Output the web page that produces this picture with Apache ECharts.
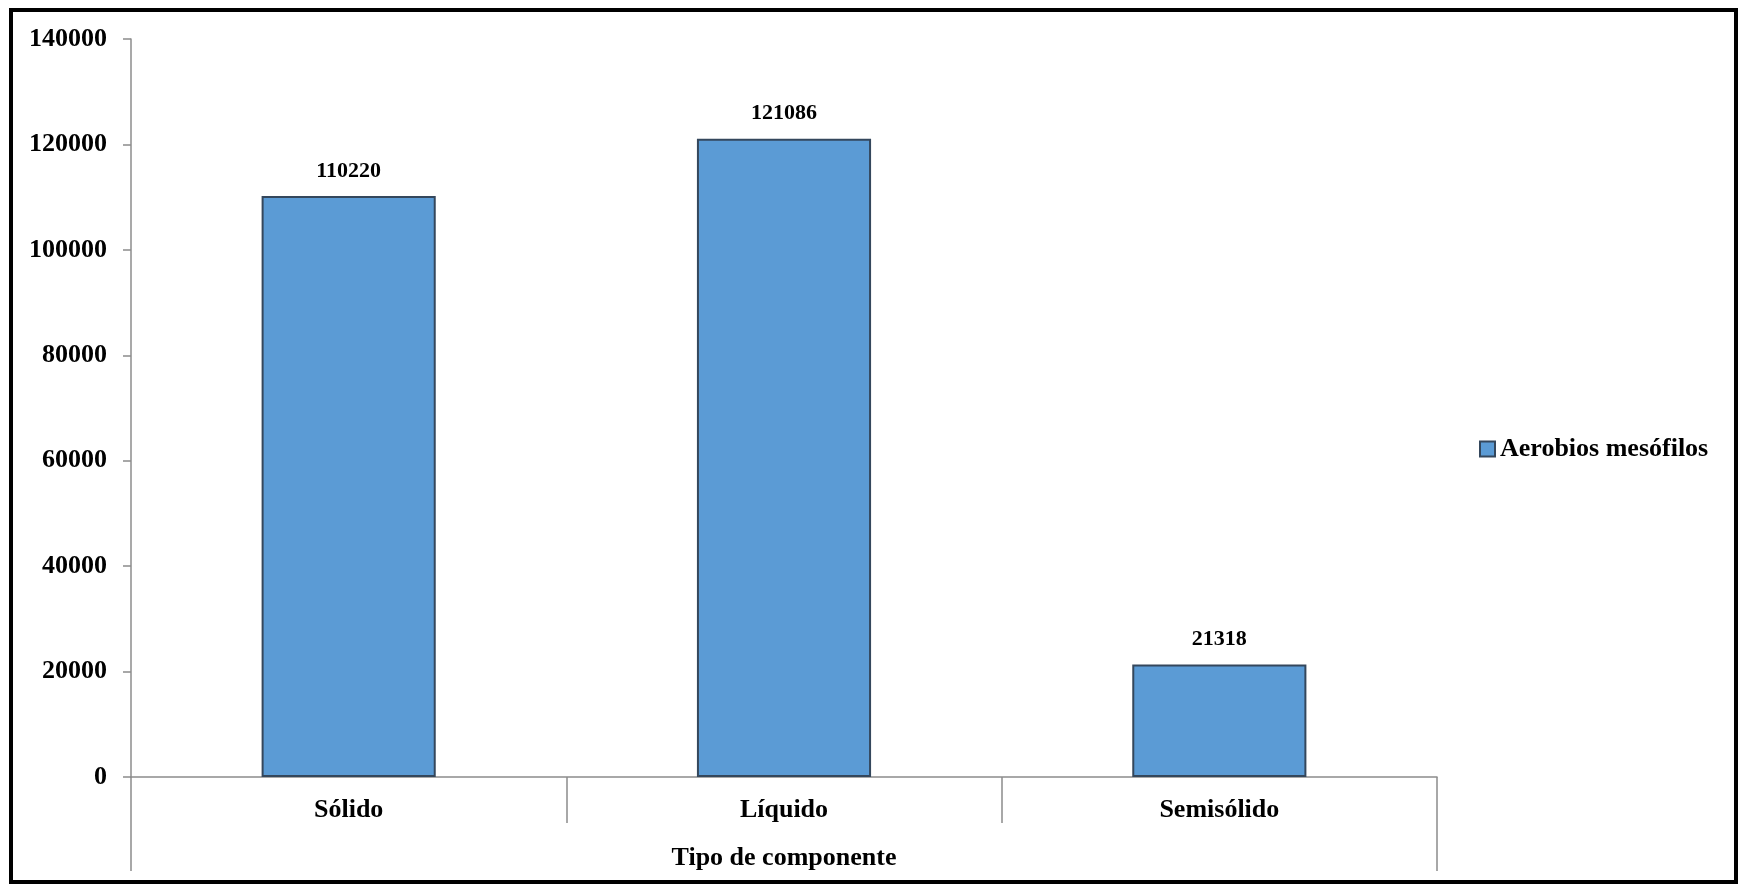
<!DOCTYPE html>
<html>
<head>
<meta charset="utf-8">
<title>Aerobios mesófilos por tipo de componente</title>
<script src="https://cdn.jsdelivr.net/npm/echarts@6/dist/echarts.min.js"></script>
<style>
  html, body { margin: 0; padding: 0; background: #ffffff; }
  #chart { width: 1738px; height: 884px; }
</style>
</head>
<body>
<div id="chart"></div>
<script>
// Categories and measured counts
const categories = ['Sólido', 'Líquido', 'Semisólido'];
const seriesName = 'Aerobios mesófilos';
const values = [110220, 121086, 21318];
const groupLabel = ['Tipo de componente'];
const yTicks = { min: 0, max: 140000, interval: 20000 };

const FONT = '"Liberation Serif", "Times New Roman", serif';
const AXIS_GRAY = '#8c8c8c';

const chart = echarts.init(document.getElementById('chart'), null, { renderer: 'canvas' });

chart.setOption({
  animation: false,
  backgroundColor: '#ffffff',
  textStyle: { fontFamily: FONT, fontWeight: 'bold', color: '#000' },
  graphic: [{
    type: 'rect',
    shape: { x: 11, y: 10, width: 1725, height: 872 },
    style: { fill: null, stroke: '#000', lineWidth: 4 },
    silent: true
  }],
  grid: { left: 131, right: 301, top: 39, bottom: 107, containLabel: false },
  legend: {
    data: [seriesName],
    orient: 'vertical',
    left: 1479,
    top: 436,
    padding: 0,
    itemWidth: 15,
    itemHeight: 15,
    itemGap: 0,
    icon: 'rect',
    textStyle: { fontFamily: FONT, fontWeight: 'bold', fontSize: 26, color: '#000' }
  },
  xAxis: [{
    type: 'category',
    data: categories,
    position: 'bottom',
    axisLine: { show: true, lineStyle: { color: AXIS_GRAY, width: 1.5 } },
    axisTick: { show: true, length: 46, interval: 0, lineStyle: { color: AXIS_GRAY, width: 1.5 } },
    axisLabel: { margin: 20, fontFamily: FONT, fontWeight: 'bold', fontSize: 26, color: '#000' },
    splitLine: { show: false }
  }, {
    type: 'category',
    data: groupLabel,
    position: 'bottom',
    gridIndex: 0,
    axisLine: { show: false },
    axisTick: { show: true, length: 94, lineStyle: { color: AXIS_GRAY, width: 1.5 } },
    axisLabel: { margin: 68, fontFamily: FONT, fontWeight: 'bold', fontSize: 26, color: '#000' },
    splitLine: { show: false }
  }],
  yAxis: {
    type: 'value',
    min: yTicks.min,
    max: yTicks.max,
    interval: yTicks.interval,
    axisLine: { show: true, lineStyle: { color: AXIS_GRAY, width: 1.5 } },
    axisTick: { show: true, length: 8, lineStyle: { color: AXIS_GRAY, width: 1.5 } },
    axisLabel: {
      margin: 24,
      fontFamily: FONT,
      fontWeight: 'bold',
      fontSize: 26,
      color: '#000',
      formatter: (v) => String(v)
    },
    splitLine: { show: false }
  },
  series: [{
    name: seriesName,
    type: 'bar',
    xAxisIndex: 0,
    data: values,
    barWidth: '40%',
    itemStyle: { color: '#5B9BD5', borderColor: '#34475c', borderWidth: 2 },
    label: {
      show: true,
      position: 'top',
      distance: 14,
      fontFamily: FONT,
      fontWeight: 'bold',
      fontSize: 22,
      color: '#000'
    }
  }]
});
</script>
</body>
</html>
